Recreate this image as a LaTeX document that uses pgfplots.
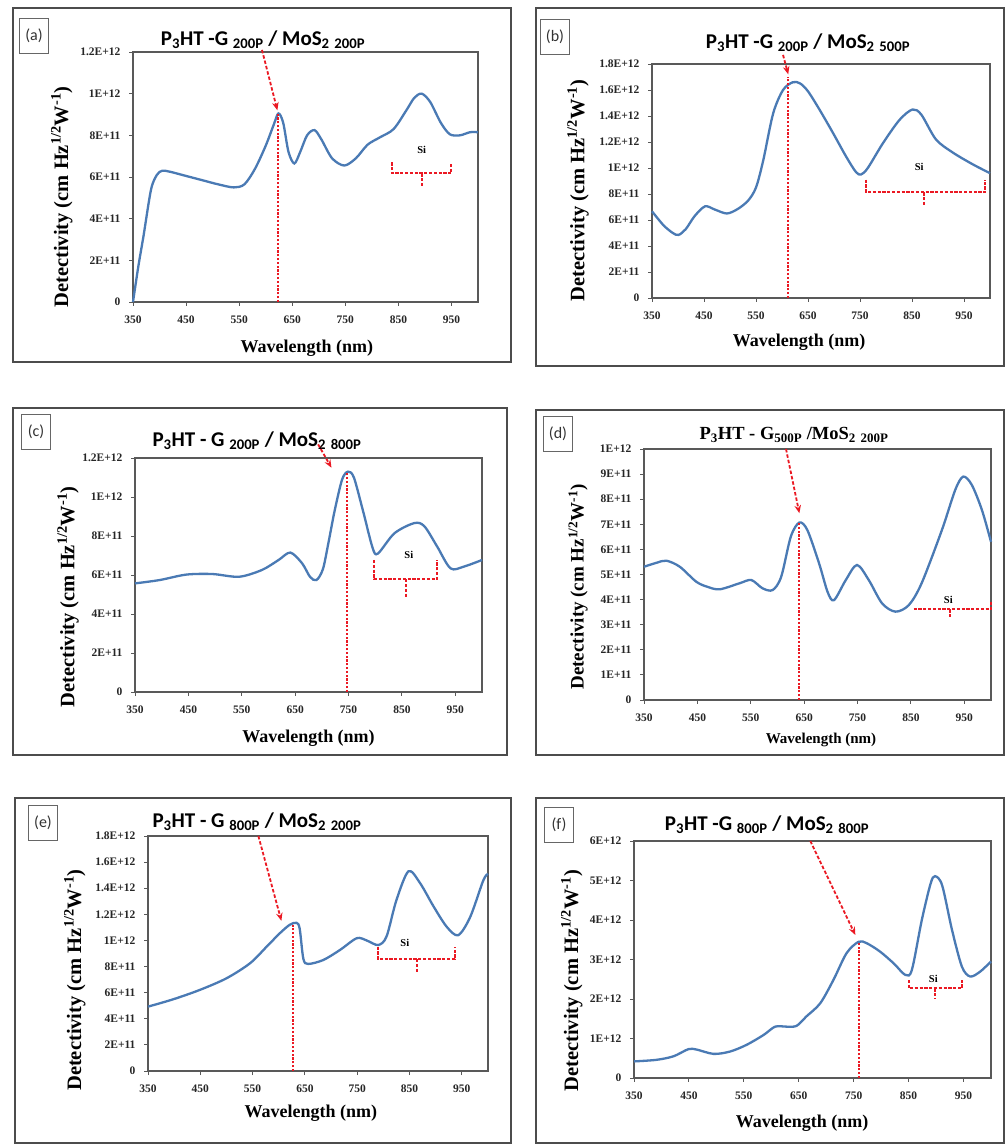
\documentclass[border=0pt]{standalone}
\usepackage{fontspec}
\setmainfont{Liberation Serif}
\newfontfamily\calib{Carlito}
\usepackage{pgfplots}
\pgfplotsset{compat=1.18}
\usetikzlibrary{arrows.meta}
\definecolor{curveblue}{RGB}{74,122,180}
\definecolor{annred}{RGB}{235,25,35}
\pgfplotsset{
  panel/.style={
    scale only axis, clip=false,
    xmin=350, xmax=1000, ymin=0,
    scaled y ticks=false, scaled x ticks=false,
    xtick={350,450,550,650,750,850,950},
    tick align=outside, xtick pos=left, ytick pos=left,
    major tick length=4pt,
    axis line style={black!65, line width=1.1pt},
    tick style={black!65, line width=0.9pt},
    /pgf/number format/assume math mode=true,
    ticklabel style={font=\bfseries\fontsize{11.5}{12}\selectfont, text=black!85},
    yticklabel style={xshift=-5pt},
    xticklabel style={yshift=-6pt},
    xlabel style={font=\bfseries\fontsize{18}{20}\selectfont, anchor=center},
    ylabel style={font=\bfseries\fontsize{20.5}{22}\selectfont, anchor=center},
  },
  curve/.style={color=curveblue, line width=2.3pt, smooth, no markers},
  vline/.style={color=annred, line width=2pt, dash pattern=on 2.2pt off 1.6pt, no markers},
  brk/.style={color=annred, line width=2pt, dash pattern=on 3.2pt off 1.6pt, no markers},
}
\tikzset{arr/.style={color=annred, line width=1.8pt, dash pattern=on 3.5pt off 2pt, -{Stealth[length=8pt,width=6.5pt]}},
  silab/.style={font=\bfseries\fontsize{10.5}{10.5}\selectfont},
  plab/.style={draw=black!60, line width=0.8pt, minimum width=29pt, minimum height=35pt, inner sep=0pt, font=\calib\fontsize{16}{16}\selectfont, text=black!80},
  frm/.style={draw=black!70, line width=1.8pt},
  ttl/.style={font=\calib\bfseries\fontsize{21}{21}\selectfont}}
\newcommand{\sm}[1]{\textsubscript{#1}}
\newcommand{\detlabel}{Detectivity (cm Hz\textsuperscript{1/2}W\textsuperscript{-1})}
\begin{document}
\begin{tikzpicture}
\useasboundingbox (0pt,0pt) rectangle (1005pt,1144pt);
\fill[white] (0pt,0pt) rectangle (1005pt,1144pt);
% frames
\draw[frm] (13pt,782pt) rectangle (511pt,1136pt);
\draw[frm] (536pt,778pt) rectangle (1004pt,1136pt);
\draw[frm] (13pt,389pt) rectangle (507pt,736pt);
\draw[frm] (536pt,389pt) rectangle (1004pt,734pt);
\draw[frm] (15pt,1pt) rectangle (511pt,346pt);
\draw[frm] (536pt,1pt) rectangle (1004pt,346pt);
% panel labels
\node[plab] at (34pt,1108pt) {(a)};
\node[plab] at (555pt,1107pt) {(b)};
\node[plab] at (36pt,712pt) {(c)};
\node[plab] at (558pt,710pt) {(d)};
\node[plab] at (43pt,321pt) {(e)};
\node[plab] at (559pt,319pt) {(f)};
% titles
\node[ttl] at (263pt,1104pt) {P\sm{3}HT -G \sm{200P} / MoS\sm{2} \sm{200P}};
\node[ttl] at (808pt,1101pt) {P\sm{3}HT -G \sm{200P} / MoS\sm{2} \sm{500P}};
\node[ttl] at (257pt,703pt) {P\sm{3}HT - G \sm{200P} / MoS\sm{2} \sm{800P}};
\node[font=\bfseries\fontsize{18.5}{18.5}\selectfont] at (794pt,709pt) {P\sm{3}HT - G\sm{500P} /MoS\sm{2} \sm{200P}};
\node[ttl] at (257pt,322pt) {P\sm{3}HT - G \sm{800P} / MoS\sm{2} \sm{200P}};
\node[ttl] at (767pt,319pt) {P\sm{3}HT -G \sm{800P} / MoS\sm{2} \sm{800P}};

% (a)
\begin{axis}[panel, at={(133pt,842pt)}, anchor=south west, width=345pt, height=250pt,
  ymax=1.2e12, ytick={0,2e11,4e11,6e11,8e11,1e12,1.2e12},
  yticklabels={0,2E+11,4E+11,6E+11,8E+11,1E+12,1.2E+12},
  xlabel={Wavelength (nm)}, ylabel={\detlabel},
  xlabel style={at={(axis description cs:0.504,-0.184)}},
  ylabel style={at={(axis description cs:-0.206,0.42)}}]
\addplot[curve] coordinates {(350,0) (360,1.7e11) (370,3.2e11) (384,5.4e11) (395,6.1e11) (405,6.3e11) (420,6.25e11) (450,6.05e11) (480,5.85e11) (510,5.65e11) (540,5.5e11) (560,5.65e11) (580,6.4e11) (600,7.5e11) (615,8.5e11) (624,9.05e11) (633,8.6e11) (643,7.2e11) (654,6.65e11) (665,7.2e11) (678,8.0e11) (692,8.25e11) (705,7.8e11) (725,6.9e11) (748,6.55e11) (770,6.9e11) (792,7.55e11) (815,7.9e11) (841,8.3e11) (865,9.2e11) (880,9.8e11) (894,1.0e12) (910,9.6e11) (930,8.6e11) (947,8.05e11) (966,8.0e11) (985,8.15e11) (1000,8.15e11)};
\addplot[vline] coordinates {(624,0) (624,9.0e11)};
\addplot[brk] coordinates {(838,6.7e11) (838,6.17e11) (950,6.17e11) (950,6.7e11)};
\addplot[brk] coordinates {(894,6.17e11) (894,5.5e11)};
\node[silab] at (axis cs:894,7.3e11) {Si};
\draw[arr] (axis cs:593,1.21e12) -- (axis cs:622,9.2e11);
\end{axis}

% (b)
\begin{axis}[panel, at={(652pt,846pt)}, anchor=south west, width=338pt, height=234pt,
  ymax=1.8e12, ytick={0,2e11,4e11,6e11,8e11,1e12,1.2e12,1.4e12,1.6e12,1.8e12},
  yticklabels={0,2E+11,4E+11,6E+11,8E+11,1E+12,1.2E+12,1.4E+12,1.6E+12,1.8E+12},
  xlabel={Wavelength (nm)}, ylabel={\detlabel},
  xlabel style={at={(axis description cs:0.435,-0.19)}},
  ylabel style={at={(axis description cs:-0.219,0.46)}}]
\addplot[curve] coordinates {(350,6.67e11) (372,5.6e11) (390,5.0e11) (401,4.85e11) (415,5.3e11) (432,6.3e11) (452,7.05e11) (471,6.8e11) (494,6.5e11) (515,6.85e11) (535,7.5e11) (550,8.5e11) (564,1.06e12) (583,1.42e12) (602,1.6e12) (621,1.66e12) (635,1.65e12) (650,1.59e12) (672,1.45e12) (698,1.27e12) (723,1.09e12) (742,9.7e11) (752,9.5e11) (765,1.0e12) (794,1.19e12) (826,1.37e12) (851,1.45e12) (868,1.41e12) (896,1.22e12) (928,1.12e12) (966,1.03e12) (1000,9.6e11)};
\addplot[vline] coordinates {(612,0) (612,1.7e12)};
\addplot[brk] coordinates {(762,9.1e11) (762,8.13e11) (991,8.13e11) (991,9.1e11)};
\addplot[brk] coordinates {(873,8.13e11) (873,7.05e11)};
\node[silab] at (axis cs:864,1.01e12) {Si};
\draw[arr] (axis cs:602,1.87e12) -- (axis cs:612,1.72e12);
\end{axis}

% (c)
\begin{axis}[panel, at={(135pt,452pt)}, anchor=south west, width=347pt, height=234pt,
  ymax=1.2e12, ytick={0,2e11,4e11,6e11,8e11,1e12,1.2e12},
  yticklabels={0,2E+11,4E+11,6E+11,8E+11,1E+12,1.2E+12},
  xlabel={Wavelength (nm)}, ylabel={\detlabel},
  xlabel style={at={(axis description cs:0.5,-0.197)}},
  ylabel style={at={(axis description cs:-0.193,0.406)}}]
\addplot[curve] coordinates {(350,5.57e11) (396,5.74e11) (446,6.02e11) (495,6.05e11) (545,5.91e11) (588,6.26e11) (619,6.77e11) (641,7.15e11) (663,6.6e11) (678,5.9e11) (690,5.74e11) (702,6.3e11) (712,7.6e11) (724,9.3e11) (738,1.09e12) (749,1.13e12) (760,1.1e12) (777,9.3e11) (795,7.4e11) (805,7.1e11) (836,8.14e11) (873,8.66e11) (892,8.5e11) (916,7.46e11) (941,6.34e11) (966,6.43e11) (1000,6.77e11)};
\addplot[vline] coordinates {(747,0) (747,1.13e12)};
\addplot[brk] coordinates {(798,6.77e11) (798,5.78e11) (916,5.78e11) (916,6.77e11)};
\addplot[brk] coordinates {(857,5.78e11) (857,4.8e11)};
\node[silab] at (axis cs:863,7.03e11) {Si};
\draw[arr] (axis cs:693,1.27e12) -- (axis cs:718,1.15e12);
\end{axis}

% (d)
\begin{axis}[panel, at={(644pt,444pt)}, anchor=south west, width=347pt, height=251pt,
  ymax=1e12, ytick={0,1e11,2e11,3e11,4e11,5e11,6e11,7e11,8e11,9e11,1e12},
  yticklabels={0,1E+11,2E+11,3E+11,4E+11,5E+11,6E+11,7E+11,8E+11,9E+11,1E+12},
  xlabel={Wavelength (nm)}, ylabel={\detlabel},
  xlabel style={at={(axis description cs:0.51,-0.16)}, font=\bfseries\fontsize{15}{16}\selectfont},
  ylabel style={at={(axis description cs:-0.19,0.45)}, font=\bfseries\fontsize{19}{20}\selectfont}]
\addplot[curve] coordinates {(350,5.31e11) (374,5.47e11) (392,5.55e11) (417,5.31e11) (448,4.71e11) (470,4.5e11) (492,4.41e11) (529,4.65e11) (551,4.78e11) (572,4.45e11) (591,4.38e11) (607,4.91e11) (625,6.51e11) (641,7.07e11) (656,6.77e11) (678,5.44e11) (694,4.3e11) (706,3.98e11) (728,4.78e11) (749,5.38e11) (771,4.78e11) (796,3.85e11) (821,3.52e11) (846,3.78e11) (870,4.65e11) (908,6.77e11) (933,8.37e11) (948,8.9e11) (964,8.57e11) (983,7.57e11) (1000,6.3e11)};
\addplot[vline] coordinates {(641,0) (641,7.07e11)};
\addplot[brk] coordinates {(855,3.61e11) (1000,3.61e11) (1000,3.9e11)};
\addplot[brk] coordinates {(923,3.61e11) (923,3.32e11)};
\node[silab] at (axis cs:920,3.98e11) {Si};
\draw[arr] (axis cs:616,1.0e12) -- (axis cs:641,7.44e11);
\end{axis}

% (e)
\begin{axis}[panel, at={(148pt,73pt)}, anchor=south west, width=340pt, height=235pt,
  ymax=1.8e12, ytick={0,2e11,4e11,6e11,8e11,1e12,1.2e12,1.4e12,1.6e12,1.8e12},
  yticklabels={0,2E+11,4E+11,6E+11,8E+11,1E+12,1.2E+12,1.4E+12,1.6E+12,1.8E+12},
  xlabel={Wavelength (nm)}, ylabel={\detlabel},
  xlabel style={at={(axis description cs:0.479,-0.179)}},
  ylabel style={at={(axis description cs:-0.215,0.387)}}]
\addplot[curve] coordinates {(350,4.93e11) (398,5.49e11) (449,6.21e11) (500,7.1e11) (545,8.25e11) (577,9.53e11) (602,1.055e12) (621,1.12e12) (634,1.135e12) (640,1.09e12) (647,8.6e11) (656,8.2e11) (685,8.5e11) (717,9.27e11) (749,1.017e12) (768,1.0e12) (790,9.65e11) (806,1.03e12) (825,1.31e12) (848,1.53e12) (870,1.44e12) (896,1.26e12) (921,1.105e12) (943,1.04e12) (966,1.18e12) (991,1.46e12) (1000,1.51e12)};
\addplot[vline] coordinates {(628,0) (628,1.12e12)};
\addplot[brk] coordinates {(790,9.53e11) (790,8.56e11) (937,8.56e11) (937,9.53e11)};
\addplot[brk] coordinates {(864,8.56e11) (864,7.6e11)};
\node[silab] at (axis cs:841,9.78e11) {Si};
\draw[arr] (axis cs:561,1.8e12) -- (axis cs:605,1.15e12);
\end{axis}

% (f)
\begin{axis}[panel, at={(634pt,66pt)}, anchor=south west, width=357pt, height=237pt,
  ymax=6e12, ytick={0,1e12,2e12,3e12,4e12,5e12,6e12},
  yticklabels={0,1E+12,2E+12,3E+12,4E+12,5E+12,6E+12},
  xlabel={Wavelength (nm)}, ylabel={\detlabel},
  xlabel style={at={(axis description cs:0.471,-0.19)}},
  ylabel style={at={(axis description cs:-0.174,0.41)}}]
\addplot[curve] coordinates {(350,0.42e12) (391,0.46e12) (422,0.55e12) (449,0.73e12) (464,0.72e12) (495,0.61e12) (525,0.67e12) (555,0.84e12) (586,1.09e12) (607,1.3e12) (628,1.3e12) (646,1.32e12) (664,1.56e12) (689,1.89e12) (713,2.48e12) (737,3.16e12) (759,3.45e12) (774,3.41e12) (798,3.2e12) (823,2.9e12) (844,2.61e12) (856,2.74e12) (874,4.0e12) (890,4.92e12) (898,5.11e12) (911,4.88e12) (929,3.75e12) (947,2.82e12) (962,2.57e12) (980,2.69e12) (1000,2.95e12)};
\addplot[vline] coordinates {(759,0) (759,3.45e12)};
\addplot[brk] coordinates {(850,2.48e12) (850,2.27e12) (947,2.27e12) (947,2.48e12)};
\addplot[brk] coordinates {(898,2.27e12) (898,2.02e12)};
\node[silab] at (axis cs:895,2.52e12) {Si};
\draw[arr] (axis cs:671,6.0e12) -- (axis cs:753,3.62e12);
\end{axis}
\end{tikzpicture}
\end{document}
